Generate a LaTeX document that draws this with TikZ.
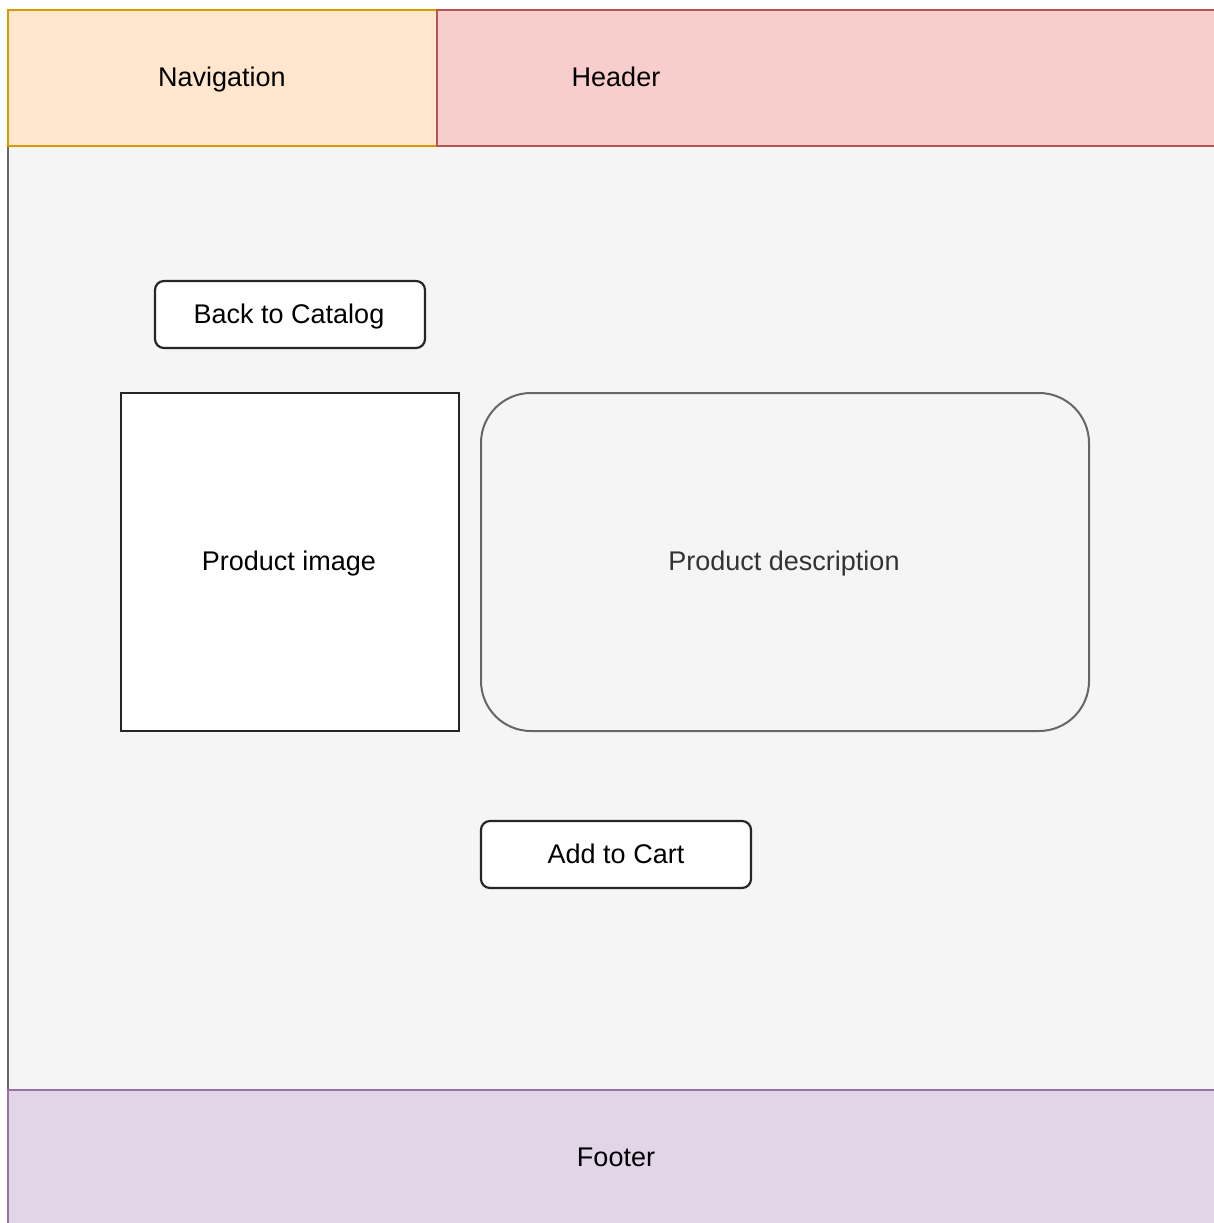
\documentclass[tikz,border=0pt]{standalone}
\usepackage{fontspec}
\setmainfont{Liberation Sans}
\begin{document}
\begin{tikzpicture}[x=1pt,y=-1pt,
  every node/.style={inner sep=0pt, outer sep=0pt},
  lbl/.style={font=\fontsize{27}{31}\selectfont, anchor=base, yshift=-9.7pt},
  btn/.style={draw=black!85, fill=white, line width=2.2pt, rounded corners=9pt, anchor=north west, minimum width=270pt, minimum height=67pt}
]
\useasboundingbox (0,0) rectangle (1214,1223);
\fill[white] (0,0) rectangle (1214,1223);
% main area
\node[draw=black!60, fill=black!4, line width=1.5pt, anchor=north west, minimum width=1220pt, minimum height=946pt] (main) at (8,145) {};
% header bars
\node[draw={rgb,255:red,215;green,155;blue,0}, fill={rgb,255:red,255;green,230;blue,204}, line width=2pt, anchor=north west, minimum width=429pt, minimum height=136pt] (nav) at (8,10) {};
\node[lbl] at (222,77) (navt) {Navigation};
\node[draw={rgb,255:red,184;green,84;blue,80}, fill={rgb,255:red,248;green,206;blue,204}, line width=2pt, anchor=north west, minimum width=790pt, minimum height=136pt] (head) at (437,10) {};
\node[lbl] at (616,77) (headt) {Header};
% footer
\node[draw={rgb,255:red,150;green,115;blue,166}, fill={rgb,255:red,225;green,213;blue,231}, line width=2pt, anchor=north west, minimum width=1220pt, minimum height=145pt] (foot) at (8,1090) {};
\node[lbl] at (616,1157) (foott) {Footer};
% buttons
\node[btn] (back) at (155,281) {};
\node[lbl] at (289,314) (backt) {Back to Catalog};
\node[btn] (cart) at (481,821) {};
\node[lbl] at (616,854) (cartt) {Add to Cart};
% product image
\node[draw=black!85, fill=white, line width=2.2pt, anchor=north west, minimum width=338pt, minimum height=338pt] (img) at (121,393) {};
\node[lbl] at (289,561) (imgt) {Product image};
% description
\node[draw=black!60, fill=black!4, line width=2pt, rounded corners=50pt, anchor=north west, minimum width=608pt, minimum height=338pt] (desc) at (481,393) {};
\node[lbl, text=black!80] at (784,561) (desct) {Product description};
\end{tikzpicture}
\end{document}
